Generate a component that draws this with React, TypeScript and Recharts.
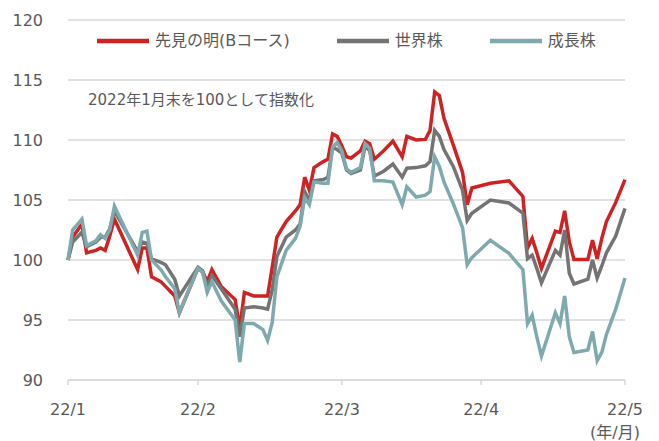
import { LineChart, Line, XAxis, YAxis, CartesianGrid, Legend } from 'recharts';

// day offsets from 2022/1 month-end
const days = [
    0, 1, 3, 4, 6, 7, 8, 9, 10, 15, 16, 17, 18, 20, 21, 23, 24, 28, 29, 30,
    31, 33, 36, 37, 38, 40, 42, 43, 44, 45, 47, 49, 50, 51, 52, 53, 55, 56, 57, 58,
    59, 60, 61, 63, 64, 65, 66, 68, 70, 72, 73, 75, 77, 78, 79, 80, 81, 83, 85, 86,
    87, 91, 95, 98, 99, 100, 101, 102, 105, 106, 107, 108, 109, 112, 113, 114, 115, 116, 118, 120,
];

const foresight = [
    100, 101.9, 103.0, 100.6, 100.8, 101.0, 100.8, 102.0, 103.4, 99.2, 101.0, 101.0, 98.6, 98.2, 97.8, 97.0, 95.6, 99.3, 99.0, 98.2,
    99.2, 97.8, 96.7, 94.3, 97.3, 97.0, 97.0, 97.0, 99.4, 101.9, 103.2, 104.1, 104.6, 106.9, 105.8, 107.7, 108.2, 108.4, 110.5, 110.3,
    109.5, 108.6, 108.5, 109.1, 109.9, 109.7, 108.4, 109.1, 109.9, 108.6, 110.3, 110.0, 110.05, 110.8, 114.0, 113.7, 111.8, 109.6, 107.3, 104.6,
    106.0, 106.4, 106.6, 105.3, 101.0, 101.8, 100.6, 99.3, 102.4, 102.3, 104.1, 101.5, 100.05, 100.05, 101.65, 100.1, 101.8, 103.2, 104.8, 106.7,
];

const world = [
    100, 101.5, 102.3, 101.1, 101.5, 101.9, 101.9, 102.6, 104.1, 100.7, 101.5, 101.4, 100.1, 99.8, 99.6, 98.4, 97.0, 99.4, 99.1, 97.8,
    98.7, 97.6, 95.9, 93.6, 96.0, 96.1, 96.0, 95.9, 97.5, 100.3, 101.9, 102.5, 103.0, 105.7, 105.0, 106.6, 106.7, 106.9, 109.4, 109.2,
    108.9, 107.5, 107.2, 107.5, 109.5, 109.1, 107.0, 107.4, 108.0, 106.9, 107.65, 107.7, 107.85, 108.2, 110.8, 110.3, 109.2, 107.8, 105.8, 103.3,
    103.9, 105.0, 104.75, 103.9, 100.1, 100.4, 99.3, 98.1, 100.8, 100.4, 102.5, 98.9, 98.0, 98.4, 100.0, 98.5, 99.5, 100.6, 102.0, 104.3,
];

const growth = [
    100, 102.5, 103.4, 101.2, 101.6, 102.1, 101.8, 102.5, 104.5, 100.4, 102.3, 102.4, 100.0, 99.2, 98.6, 97.6, 95.6, 99.3, 99.0, 97.3,
    98.2, 96.6, 95.0, 91.5, 94.7, 94.7, 94.2, 93.3, 94.8, 98.6, 100.8, 101.8, 102.8, 105.2, 104.6, 106.5, 106.4, 106.4, 109.4, 109.8,
    109.1, 107.6, 107.3, 107.7, 109.7, 109.3, 106.6, 106.6, 106.5, 104.6, 106.1, 105.25, 105.4, 105.7, 108.6, 107.8, 106.5, 104.7, 102.7, 99.6,
    100.2, 101.65, 100.55, 99.2, 94.7, 95.4, 93.6, 92.0, 95.6, 94.7, 97.0, 93.6, 92.3, 92.5, 94.05, 91.6, 92.3, 93.8, 95.9, 98.5,
];

const monthTicks = [0, 28, 59, 89, 120];
const monthLabels = ['22/1', '22/2', '22/3', '22/4', '22/5'];
const yTicks = [90, 95, 100, 105, 110, 115, 120];

const seriesNames = ['先見の明(Bコース)', '世界株', '成長株'];
const colors = ['#cf2222', '#747474', '#7eaaaf'];

const data = days.map((d, i) => ({
    day: d,
    foresight: foresight[i],
    world: world[i],
    growth: growth[i],
}));

const font = '"DejaVu Sans", "Noto Sans CJK JP", sans-serif';
const textColor = '#595959';

function LegendBox() {
    return (
        <div style={{ display: 'flex', alignItems: 'center', paddingLeft: 97, gap: 47, fontFamily: font, fontSize: 16, color: textColor }}>
            {seriesNames.map((name, i) => (
                <div key={name} style={{ display: 'flex', alignItems: 'center' }}>
                    <svg width={52} height={8}>
                        <line x1={0} y1={4} x2={52} y2={4} stroke={colors[i]} strokeWidth={4.5} />
                    </svg>
                    <span style={{ marginLeft: 6, lineHeight: '20px' }}>{name}</span>
                </div>
            ))}
        </div>
    );
}

export default function App() {
    return (
        <div style={{ position: 'absolute', left: 0, top: 0, width: 659, height: 441, background: '#fff' }}>
            <LineChart width={659} height={441} data={data} margin={{ top: 20, right: 34, left: 0, bottom: 31 }}>
                <CartesianGrid vertical={false} stroke="#d9d9d9" strokeWidth={1.5} />
                <XAxis
                    dataKey="day"
                    type="number"
                    domain={[0, 120]}
                    ticks={monthTicks}
                    tickFormatter={(v) => monthLabels[monthTicks.indexOf(v)]}
                    stroke="#d9d9d9"
                    strokeWidth={1.5}
                    height={30}
                    tickSize={5}
                    tickMargin={19}
                    tick={{ fill: textColor, fontSize: 16, fontFamily: font }}
                    interval={0}
                />
                <YAxis
                    domain={[90, 120]}
                    ticks={yTicks}
                    axisLine={false}
                    tickLine={false}
                    width={68}
                    tickSize={6}
                    tickMargin={19}
                    tick={{ fill: textColor, fontSize: 16, fontFamily: font }}
                />
                <Legend
                    verticalAlign="middle"
                    layout="horizontal"
                    content={() => <LegendBox />}
                    wrapperStyle={{ top: 31, left: 0, width: 659 }}
                />
                <Line type="linear" dataKey="foresight" name={seriesNames[0]} stroke={colors[0]} strokeWidth={3.5} dot={false} isAnimationActive={false} />
                <Line type="linear" dataKey="world" name={seriesNames[1]} stroke={colors[1]} strokeWidth={3.5} dot={false} isAnimationActive={false} />
                <Line type="linear" dataKey="growth" name={seriesNames[2]} stroke={colors[2]} strokeWidth={3.5} dot={false} isAnimationActive={false} />
            </LineChart>
            <div style={{ position: 'absolute', left: 88, top: 92, fontFamily: font, fontSize: 15, lineHeight: '16px', color: textColor, whiteSpace: 'nowrap' }}>
                2022年1月末を100として指数化
            </div>
            <div style={{ position: 'absolute', right: 19, top: 424, fontFamily: font, fontSize: 16, lineHeight: '18px', color: textColor, whiteSpace: 'nowrap' }}>
                (年/月)
            </div>
        </div>
    );
}
